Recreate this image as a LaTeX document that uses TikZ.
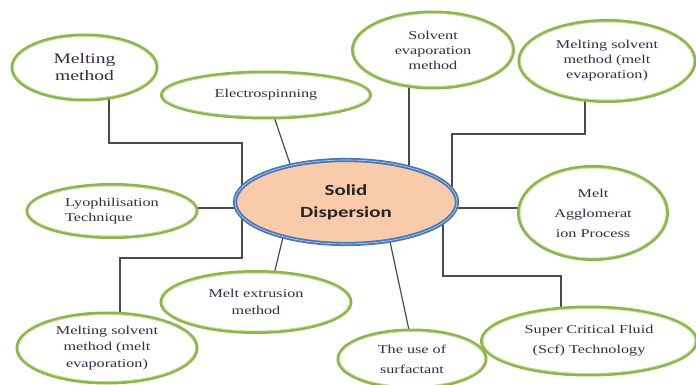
\documentclass[tikz,border=0pt]{standalone}
\usepackage{fontspec}
\setmainfont{Liberation Serif}[FakeStretch=1.35]
\newfontfamily\hubfont{Carlito}[FakeStretch=1.35]
\usetikzlibrary{shapes.geometric,backgrounds,calc}

\definecolor{mossgreen}{RGB}{140,182,72}
\definecolor{rimblue}{RGB}{70,120,185}
\definecolor{peach}{RGB}{249,203,170}
\definecolor{inkpurple}{RGB}{58,42,70}
\definecolor{linkgray}{RGB}{75,75,75}

\tikzset{
  method/.style={ellipse,draw=mossgreen,line width=3pt,fill=white,inner sep=0pt,
    align=center,text=inkpurple,font=\fontsize{12}{15}\selectfont},
  innerring/.style={draw=mossgreen!55,line width=0.8pt},
  hub/.style={ellipse,draw=rimblue,line width=1.8pt,double=rimblue!35,double distance=0.6pt,
    fill=peach,inner sep=0pt,align=center,text=black!85,font=\hubfont\bfseries\fontsize{15.5}{22}\selectfont},
  link/.style={draw=linkgray,line width=1.2pt}
}

\begin{document}
\begin{tikzpicture}[x=1pt,y=-1pt]
    \useasboundingbox (0,0) rectangle (696,385);

    \node[hub,minimum width=222pt,minimum height=84pt] (sd) at (346,202) {Solid\\Dispersion};

    \node[method,minimum width=145pt,minimum height=65pt,font=\fontsize{14.5}{17}\selectfont] (mm) at (84.5,67.5) {Melting\\method};
    \node[method,minimum width=209pt,minimum height=46pt] (es) at (266,95) {Electrospinning};
    \node[method,minimum width=161pt,minimum height=76pt] (sem) at (433,50) {Solvent\\evaporation\\method};
    \node[method,minimum width=176pt,minimum height=81pt] (mst) at (607,61) {Melting solvent\\method (melt\\evaporation)};
    \node[method,minimum width=149pt,minimum height=93pt,font=\fontsize{12}{20}\selectfont] (ma) at (593,213) {Melt\\Agglomerat\\ion Process};
    \node[method,minimum width=170pt,minimum height=53pt,align=left] (ly) at (112,211) {Lyophilisation\\Technique};
    \node[method,minimum width=190pt,minimum height=61pt,font=\fontsize{12}{17}\selectfont] (me) at (256,302) {Melt extrusion\\method};
    \node[method,minimum width=180pt,minimum height=70pt,font=\fontsize{12}{16.5}\selectfont] (msb) at (107,348) {Melting solvent\\method (melt\\evaporation)};
    \node[method,minimum width=148pt,minimum height=58pt,font=\fontsize{12}{20}\selectfont] (us) at (412,359) {The use of\\surfactant};
    \node[method,minimum width=215pt,minimum height=68pt,font=\fontsize{12}{20}\selectfont] (scf) at (589,341) {Super Critical Fluid\\(Scf) Technology};

    \foreach \nd in {mm,es,sem,mst,ma,ly,me,msb,us,scf}
        \draw[innerring] let \p0=(\nd.center), \p1=(\nd.east), \p2=(\nd.north) in
            (\p0) ellipse [x radius=\x1-\x0-2.9pt, y radius=\y2-\y0-2.9pt];

    \coordinate (mm-a) at (109,143);
    \coordinate (mm-b) at (242,143);
    \coordinate (mst-a) at (585,134);
    \coordinate (mst-b) at (452,134);
    \coordinate (msb-a) at (242,258);
    \coordinate (msb-b) at (120,258);
    \coordinate (scf-a) at (443,276);
    \coordinate (scf-b) at (561,276);
    \coordinate (es-in) at (270,105);
    \coordinate (es-hub) at (295.5,180);
    \coordinate (me-in) at (271.4,285);
    \coordinate (me-hub) at (286,225);
    \coordinate (us-in) at (412.2,345);
    \coordinate (us-hub) at (385.8,222);

    \begin{scope}[on background layer]
        \draw[link] (mm-a |- mm.center) -- (mm-a) -- (mm-b) -- (mm-b |- sd.center);
        \draw[link] (es-in) -- (es-hub);
        \draw[link] (sem.center -| 409,0) -- (sd.center -| 409,0);
        \draw[link] (mst-a |- mst.center) -- (mst-a) -- (mst-b) -- (mst-b |- sd.center);
        \draw[link] (sd.center |- 0,208) -- (ma.center |- 0,208);
        \draw[link] (ly.center |- 0,208) -- (sd.center |- 0,208);
        \draw[link] (me-in) -- (me-hub);
        \draw[link] (msb-a |- sd.center) -- (msb-a) -- (msb-b) -- (msb-b |- msb.center);
        \draw[link] (us-hub) -- (us-in);
        \draw[link] (scf-a |- sd.center) -- (scf-a) -- (scf-b) -- (scf-b |- scf.center);
    \end{scope}
\end{tikzpicture}
\end{document}
